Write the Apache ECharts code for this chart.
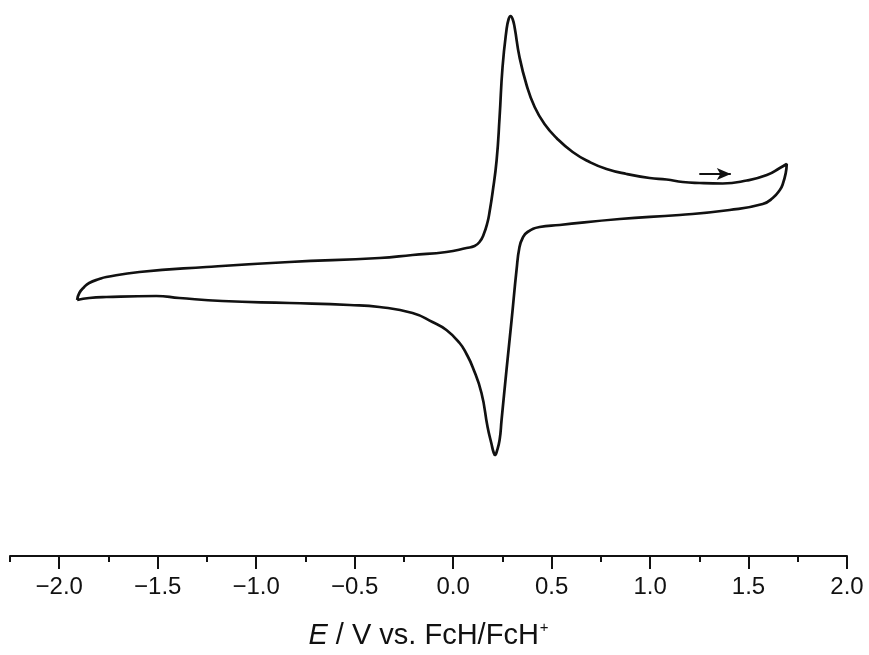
<!DOCTYPE html>
<html>
<head>
<meta charset="utf-8">
<script src="https://cdn.jsdelivr.net/npm/echarts@6/dist/echarts.min.js"></script>
<style>
  html, body { margin: 0; padding: 0; background: #fff; }
  #chart { width: 869px; height: 655px; }
</style>
</head>
<body>
<div id="chart"></div>
<script>
// potential (V vs FcH/FcH+) and current (arbitrary units), in scan order
const scanE = [
  -1.909, -1.898, -1.873, -1.848, -1.797, -1.761, -1.593, -1.253, -0.831, -0.374,
  -0.206, -0.034, 0.068, 0.109, 0.134, 0.154, 0.175, 0.185, 0.200, 0.221,
  0.236, 0.251, 0.271, 0.282, 0.292, 0.302, 0.312, 0.337, 0.373, 0.414,
  0.464, 0.525, 0.607, 0.693, 0.779, 0.881, 0.998, 1.084, 1.166, 1.252,
  1.369, 1.491, 1.593, 1.659, 1.694,
  1.689, 1.674, 1.659, 1.623, 1.572, 1.404, 1.150, 0.846, 0.541, 0.439,
  0.378, 0.353, 0.337, 0.322, 0.297, 0.271, 0.246, 0.236, 0.221, 0.213,
  0.205, 0.195, 0.175, 0.144, 0.099, 0.068, 0.033, -0.034, -0.105, -0.206,
  -0.374, -0.526, -0.831, -1.172, -1.390, -1.507, -1.761, -1.848, -1.909
]
const scanI = [
  -4.0, -3.3, -2.7, -2.3, -1.9, -1.7, -1.2, -0.7, -0.2, 0.2,
  0.5, 0.8, 1.2, 1.4, 1.8, 2.5, 3.8, 4.8, 6.7, 10.0,
  14.3, 19.3, 23.0, 24.1, 24.4, 24.1, 23.3, 20.3, 17.5, 15.3,
  13.6, 12.2, 10.8, 9.8, 9.1, 8.6, 8.2, 8.05, 7.8, 7.7,
  7.65, 7.95, 8.5, 9.2, 9.6,
  8.7, 7.6, 7.0, 6.2, 5.6, 5.0, 4.5, 4.1, 3.5, 3.3,
  2.8, 2.2, 1.3, -1.0, -6.0, -11.0, -16.0, -18.0, -19.2, -19.5,
  -19.2, -18.4, -16.7, -13.3, -10.7, -9.4, -8.3, -7.0, -6.2, -5.3,
  -4.7, -4.5, -4.3, -4.1, -3.8, -3.6, -3.7, -3.8, -4.0
]
// scan direction arrow
const arrowE = [1.25, 1.41]
const arrowI = [8.6, 8.6]

const majorTicks = [-2.0, -1.5, -1.0, -0.5, 0.0, 0.5, 1.0, 1.5, 2.0]
const minorTicks = [-2.25, -1.75, -1.25, -0.75, -0.25, 0.25, 0.75, 1.25, 1.75]

const scanData = scanE.map((e, i) => [e, scanI[i]])

const chart = echarts.init(document.getElementById('chart'))
const font = '"Liberation Sans", Arial, sans-serif'

chart.setOption({
  animation: false,
  grid: { left: 10, right: 22, top: 6, bottom: 99 },
  xAxis: [
    {
      type: 'value',
      min: -2.25,
      max: 2.0,
      position: 'bottom',
      splitLine: { show: false },
      axisLine: { onZero: false, lineStyle: { color: '#111', width: 2 } },
      axisTick: {
        customValues: majorTicks,
        length: 13,
        lineStyle: { color: '#111', width: 2 }
      },
      axisLabel: {
        customValues: majorTicks,
        margin: 19,
        color: '#111',
        fontSize: 24,
        fontFamily: font,
        formatter: v => (v < 0 ? '\u2212' : '') + Math.abs(v).toFixed(1)
      },
      name: '{i|E} / V vs. FcH/FcH{sup|+}',
      nameLocation: 'middle',
      nameGap: 64,
      nameTextStyle: {
        color: '#111',
        fontSize: 29,
        fontFamily: font,
        rich: {
          i: { fontStyle: 'italic', fontSize: 29, fontFamily: font, color: '#111' },
          sup: { fontSize: 15, fontFamily: font, color: '#111', verticalAlign: 'top', padding: [0, 0, 16, 1] }
        }
      }
    },
    {
      type: 'value',
      min: -2.25,
      max: 2.0,
      position: 'bottom',
      splitLine: { show: false },
      axisLine: { show: false, onZero: false },
      axisTick: {
        customValues: minorTicks,
        length: 6,
        lineStyle: { color: '#111', width: 2 }
      },
      axisLabel: { show: false }
    }
  ],
  yAxis: {
    type: 'value',
    min: -29.6,
    max: 25.4,
    show: false,
    splitLine: { show: false }
  },
  series: [
    {
      type: 'line',
      data: scanData,
      showSymbol: false,
      smooth: 0.5,
      lineStyle: { color: '#111', width: 2.7 },
      silent: true
    },
    {
      type: 'line',
      data: [],
      markLine: {
        silent: true,
        symbol: ['none', 'arrow'],
        symbolSize: [9, 14],
        label: { show: false },
        lineStyle: { color: '#111', width: 2, type: 'solid' },
        data: [[{ coord: [arrowE[0], arrowI[0]] }, { coord: [arrowE[1], arrowI[1]] }]]
      }
    }
  ]
})
</script>
</body>
</html>
